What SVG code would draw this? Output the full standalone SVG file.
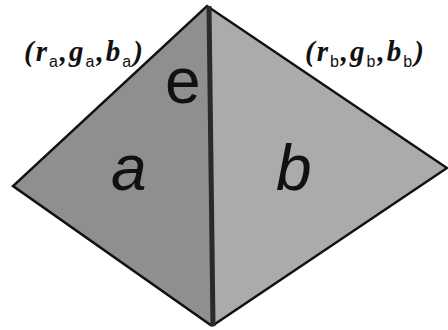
<svg xmlns="http://www.w3.org/2000/svg" width="448" height="330" viewBox="0 0 448 330">
<style>
.face{stroke:none}
.edge{fill:none;stroke:#111;stroke-width:2.5;stroke-linejoin:miter}
.lbl{font-family:"Liberation Serif",serif;font-style:italic;font-weight:bold;font-size:29px;fill:#111;letter-spacing:2px}
.sub{font-family:"Liberation Sans",sans-serif;font-style:normal;font-weight:normal;font-size:16px}
.big{font-family:"Liberation Sans",Arial,sans-serif;font-size:64px;fill:#111}
</style>
<rect width="448" height="330" fill="#ffffff"/>
<g id="face-a">
<polygon class="face" points="207,6 13,186 212,326" fill="#8f8f8f"/>
<text class="big" x="111" y="190" font-style="italic">a</text>
</g>
<g id="face-b">
<polygon class="face" points="207,6 447,168 212,326" fill="#ababab"/>
<text class="big" x="276" y="190" font-style="italic">b</text>
</g>
<g id="connectors">
<polyline class="edge" points="212,326 13,186 207,6 447,168 212,326"/>
<line x1="209" y1="6" x2="213" y2="326" stroke="#2a2a2a" stroke-width="5"/>
</g>
<g id="edge-e">
<text class="big" x="165" y="103" font-size="58">e</text>
</g>
<g id="label-a">
<text class="lbl" x="24" y="61">(r<tspan class="sub" dy="6">a</tspan><tspan dy="-6">,</tspan>g<tspan class="sub" dy="6">a</tspan><tspan dy="-6">,</tspan>b<tspan class="sub" dy="6">a</tspan><tspan dy="-6">)</tspan></text>
</g>
<g id="label-b">
<text class="lbl" x="305" y="61">(r<tspan class="sub" dy="6">b</tspan><tspan dy="-6">,</tspan>g<tspan class="sub" dy="6">b</tspan><tspan dy="-6">,</tspan>b<tspan class="sub" dy="6">b</tspan><tspan dy="-6">)</tspan></text>
</g>
</svg>
